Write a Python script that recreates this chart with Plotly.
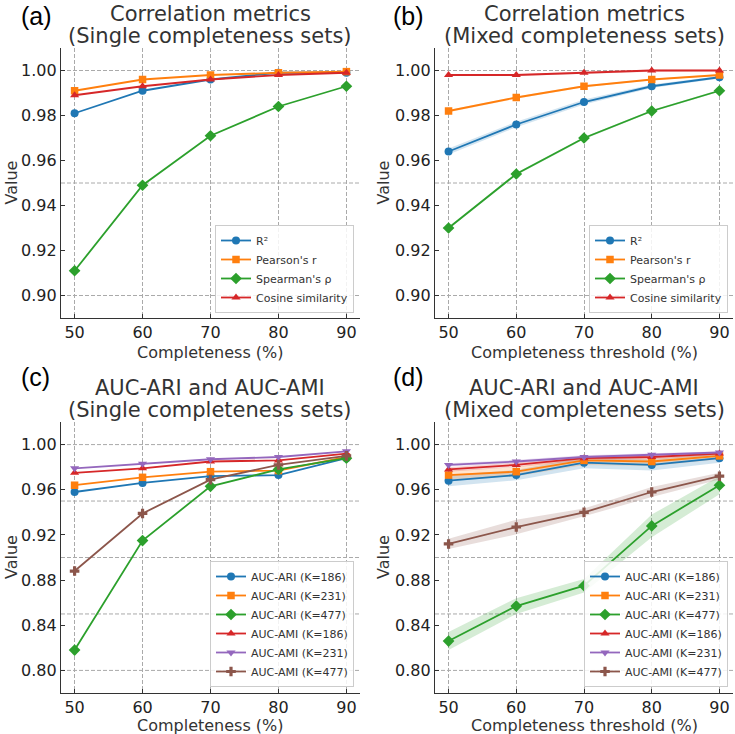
import plotly.graph_objects as go

# ---------------- data ----------------
COMPLETENESS = [50, 60, 70, 80, 90]

# (a) Correlation metrics, single completeness sets
A_R2 = [0.981, 0.991, 0.996, 0.999, 0.999]
A_PEARSON = [0.991, 0.996, 0.998, 0.999, 0.9995]
A_SPEARMAN = [0.911, 0.949, 0.971, 0.984, 0.993]
A_COSINE = [0.989, 0.993, 0.996, 0.998, 0.999]

# (b) Correlation metrics, mixed completeness sets (mean and +/- spread)
B_R2 = [0.964, 0.976, 0.986, 0.993, 0.997]
B_PEARSON = [0.982, 0.988, 0.993, 0.996, 0.998]
B_SPEARMAN = [0.930, 0.954, 0.970, 0.982, 0.991]
B_COSINE = [0.998, 0.998, 0.999, 1.000, 1.000]
B_R2_SD = [0.0013, 0.0012, 0.0011, 0.0008, 0.0006]
B_PEARSON_SD = [0.0005, 0.0005, 0.0004, 0.0003, 0.0003]
B_SPEARMAN_SD = [0.0006, 0.0006, 0.0005, 0.0004, 0.0004]
B_COSINE_SD = [0.0004, 0.0004, 0.0004, 0.0005, 0.0003]

# (c) AUC-ARI / AUC-AMI, single completeness sets
C_ARI186 = [0.958, 0.966, 0.972, 0.973, 0.988]
C_ARI231 = [0.964, 0.971, 0.976, 0.977, 0.989]
C_ARI477 = [0.818, 0.915, 0.963, 0.978, 0.988]
C_AMI186 = [0.975, 0.979, 0.985, 0.986, 0.992]
C_AMI231 = [0.979, 0.983, 0.987, 0.989, 0.994]
C_AMI477 = [0.888, 0.939, 0.969, 0.982, 0.990]

# (d) AUC-ARI / AUC-AMI, mixed completeness sets (mean and +/- spread)
D_ARI186 = [0.968, 0.973, 0.984, 0.982, 0.988]
D_ARI231 = [0.973, 0.976, 0.986, 0.985, 0.990]
D_ARI477 = [0.826, 0.857, 0.875, 0.928, 0.964]
D_AMI186 = [0.978, 0.982, 0.988, 0.989, 0.992]
D_AMI231 = [0.982, 0.985, 0.989, 0.991, 0.993]
D_AMI477 = [0.912, 0.927, 0.940, 0.958, 0.972]
D_ARI186_SD = [0.005, 0.0045, 0.005, 0.005, 0.004]
D_ARI231_SD = [0.004, 0.004, 0.004, 0.004, 0.003]
D_ARI477_SD = [0.008, 0.007, 0.006, 0.010, 0.008]
D_AMI186_SD = [0.002, 0.002, 0.002, 0.002, 0.0015]
D_AMI231_SD = [0.0015, 0.0015, 0.0015, 0.0015, 0.001]
D_AMI477_SD = [0.0045, 0.0065, 0.0035, 0.0045, 0.003]

CORR_NAMES = ["R²", "Pearson's r", "Spearman's ρ", "Cosine similarity"]
AUC_NAMES = ["AUC-ARI (K=186)", "AUC-ARI (K=231)", "AUC-ARI (K=477)",
             "AUC-AMI (K=186)", "AUC-AMI (K=231)", "AUC-AMI (K=477)"]

TITLES = [("Correlation metrics", "(Single completeness sets)"),
          ("Correlation metrics", "(Mixed completeness sets)"),
          ("AUC-ARI and AUC-AMI", "(Single completeness sets)"),
          ("AUC-ARI and AUC-AMI", "(Mixed completeness sets)")]
PANEL_LABELS = ["(a)", "(b)", "(c)", "(d)"]
X_TITLES = ["Completeness (%)", "Completeness threshold (%)",
            "Completeness (%)", "Completeness threshold (%)"]

GRID_Y_TOP = [0.90, 0.95, 1.00]
GRID_Y_BOTTOM = [0.80, 0.85, 0.90, 0.95, 1.00]

# ---------------- style ----------------
COLORS = ["#1f77b4", "#ff7f0e", "#2ca02c", "#d62728", "#9467bd", "#8c564b"]
FILLS = ["rgba(31,119,180,0.2)", "rgba(255,127,14,0.2)", "rgba(44,160,44,0.2)",
         "rgba(214,39,40,0.2)", "rgba(148,103,189,0.2)", "rgba(140,86,75,0.2)"]
SYMBOLS = ["circle", "square", "diamond", "triangle-up", "triangle-down", "cross"]
SIZES = [8, 7.5, 9, 8, 8, 8]
FONT = "DejaVu Sans"
TXT = "#333333"
W, H = 735, 734

fig = go.Figure()


def add_series(xa, ya, values, names, legend, sds=None):
    for i, (vals, name) in enumerate(zip(values, names)):
        if sds is not None:
            sd = sds[i]
            up = [v + s for v, s in zip(vals, sd)]
            lo = [v - s for v, s in zip(vals, sd)]
            fig.add_trace(go.Scatter(
                x=COMPLETENESS + COMPLETENESS[::-1], y=up + lo[::-1],
                xaxis=xa, yaxis=ya, fill="toself", fillcolor=FILLS[i],
                line=dict(width=0), mode="lines", showlegend=False,
                hoverinfo="skip"))
    for i, (vals, name) in enumerate(zip(values, names)):
        fig.add_trace(go.Scatter(
            x=COMPLETENESS, y=vals, name=name, xaxis=xa, yaxis=ya,
            mode="lines+markers", legend=legend,
            line=dict(color=COLORS[i], width=1.8),
            marker=dict(symbol=SYMBOLS[i], size=SIZES[i], color=COLORS[i])))


add_series("x", "y", [A_R2, A_PEARSON, A_SPEARMAN, A_COSINE], CORR_NAMES, "legend")
add_series("x2", "y2", [B_R2, B_PEARSON, B_SPEARMAN, B_COSINE], CORR_NAMES, "legend2",
           sds=[B_R2_SD, B_PEARSON_SD, B_SPEARMAN_SD, B_COSINE_SD])
add_series("x3", "y3", [C_ARI186, C_ARI231, C_ARI477, C_AMI186, C_AMI231, C_AMI477],
           AUC_NAMES, "legend3")
add_series("x4", "y4", [D_ARI186, D_ARI231, D_ARI477, D_AMI186, D_AMI231, D_AMI477],
           AUC_NAMES, "legend4",
           sds=[D_ARI186_SD, D_ARI231_SD, D_ARI477_SD, D_AMI186_SD, D_AMI231_SD, D_AMI477_SD])

# ---------------- layout ----------------
# pixel boxes of each plot area: (left, right, top, bottom)
BOXES = [(61, 360, 48, 318), (435, 733, 48, 318),
         (61, 360, 422, 693), (435, 733, 422, 693)]
Y_RANGES = [[0.89, 1.01], [0.89, 1.01], [0.78, 1.02], [0.78, 1.02]]
Y_DTICK = [0.02, 0.02, 0.04, 0.04]

layout = dict(
    width=W, height=H, margin=dict(l=0, r=0, t=0, b=0),
    paper_bgcolor="white", plot_bgcolor="white",
    font=dict(family=FONT, color=TXT, size=16),
    showlegend=True,
)

axis_common = dict(showline=True, linecolor="#333333", linewidth=1.3,
                   ticks="inside", ticklen=4, tickwidth=1, tickcolor="#333333",
                   zeroline=False, tickfont=dict(size=16, color="#222222"))

annotations = []
shapes = []
for k, (l, r, t, b) in enumerate(BOXES):
    sfx = "" if k == 0 else str(k + 1)
    xd = [l / W, r / W]
    yd = [1 - b / H, 1 - t / H]
    layout["xaxis" + sfx] = dict(
        domain=xd, anchor="y" + sfx, range=[48, 92],
        tickvals=COMPLETENESS, showgrid=True, gridcolor="#aaaaaa",
        griddash="4px,2px", gridwidth=1, **axis_common)
    layout["yaxis" + sfx] = dict(
        domain=yd, anchor="x" + sfx, range=Y_RANGES[k],
        tick0=0, dtick=Y_DTICK[k], tickformat=".2f", showgrid=False,
        **axis_common)
    grid_vals = GRID_Y_TOP if k < 2 else GRID_Y_BOTTOM
    for g in grid_vals:
        shapes.append(dict(type="line", xref="x" + sfx + " domain", yref="y" + sfx,
                           x0=0, x1=1, y0=g, y1=g, layer="below",
                           line=dict(color="#aaaaaa", width=1, dash="4px,2px")))
    cx = (l + r) / 2 / W
    top_line = 13.5 if k < 2 else 387.5
    annotations.append(dict(text=TITLES[k][0], x=cx, y=1 - top_line / H,
                            xref="paper", yref="paper", xanchor="center", yanchor="middle",
                            showarrow=False, font=dict(size=21, color=TXT, family=FONT)))
    annotations.append(dict(text=TITLES[k][1], x=cx, y=1 - (top_line + 22.5) / H,
                            xref="paper", yref="paper", xanchor="center", yanchor="middle",
                            showarrow=False, font=dict(size=21, color=TXT, family=FONT)))
    # panel label
    lab_x = 19 if k % 2 == 0 else 391
    if k < 2:
        annotations.append(dict(text=PANEL_LABELS[k], x=lab_x / W, y=1.0,
                                xref="paper", yref="paper", xanchor="left", yanchor="top",
                                showarrow=False,
                                font=dict(size=25, color="black", family="Liberation Sans")))
    else:
        annotations.append(dict(text=PANEL_LABELS[k], x=lab_x / W, y=1 - 377 / H,
                                xref="paper", yref="paper", xanchor="left", yanchor="middle",
                                showarrow=False,
                                font=dict(size=25, color="black", family="Liberation Sans")))
    # y-axis title
    vx = 0 if k % 2 == 0 else 372
    annotations.append(dict(text="Value", x=vx / W, y=1 - ((t + b) / 2) / H,
                            xref="paper", yref="paper", xanchor="left", yanchor="middle",
                            textangle=-90, showarrow=False,
                            font=dict(size=16, color=TXT, family=FONT)))
    # x-axis title
    xy = 352 if k < 2 else 725
    annotations.append(dict(text=X_TITLES[k], x=cx, y=1 - xy / H,
                            xref="paper", yref="paper", xanchor="center", yanchor="middle",
                            showarrow=False, font=dict(size=16, color=TXT, family=FONT)))

legend_style = dict(bgcolor="rgba(255,255,255,0.85)", bordercolor="#cccccc", borderwidth=1,
                    font=dict(size=11, color=TXT, family=FONT), xanchor="right",
                    yanchor="bottom", xref="paper", yref="paper", tracegroupgap=0)
layout["legend"] = dict(x=354 / W, y=1 - 313 / H, **legend_style)
layout["legend2"] = dict(x=728 / W, y=1 - 313 / H, **legend_style)
layout["legend3"] = dict(x=354 / W, y=1 - 687 / H, **legend_style)
layout["legend4"] = dict(x=728 / W, y=1 - 687 / H, **legend_style)

layout["annotations"] = annotations
layout["shapes"] = shapes
fig.update_layout(**layout)

fig.write_html("out.html")
